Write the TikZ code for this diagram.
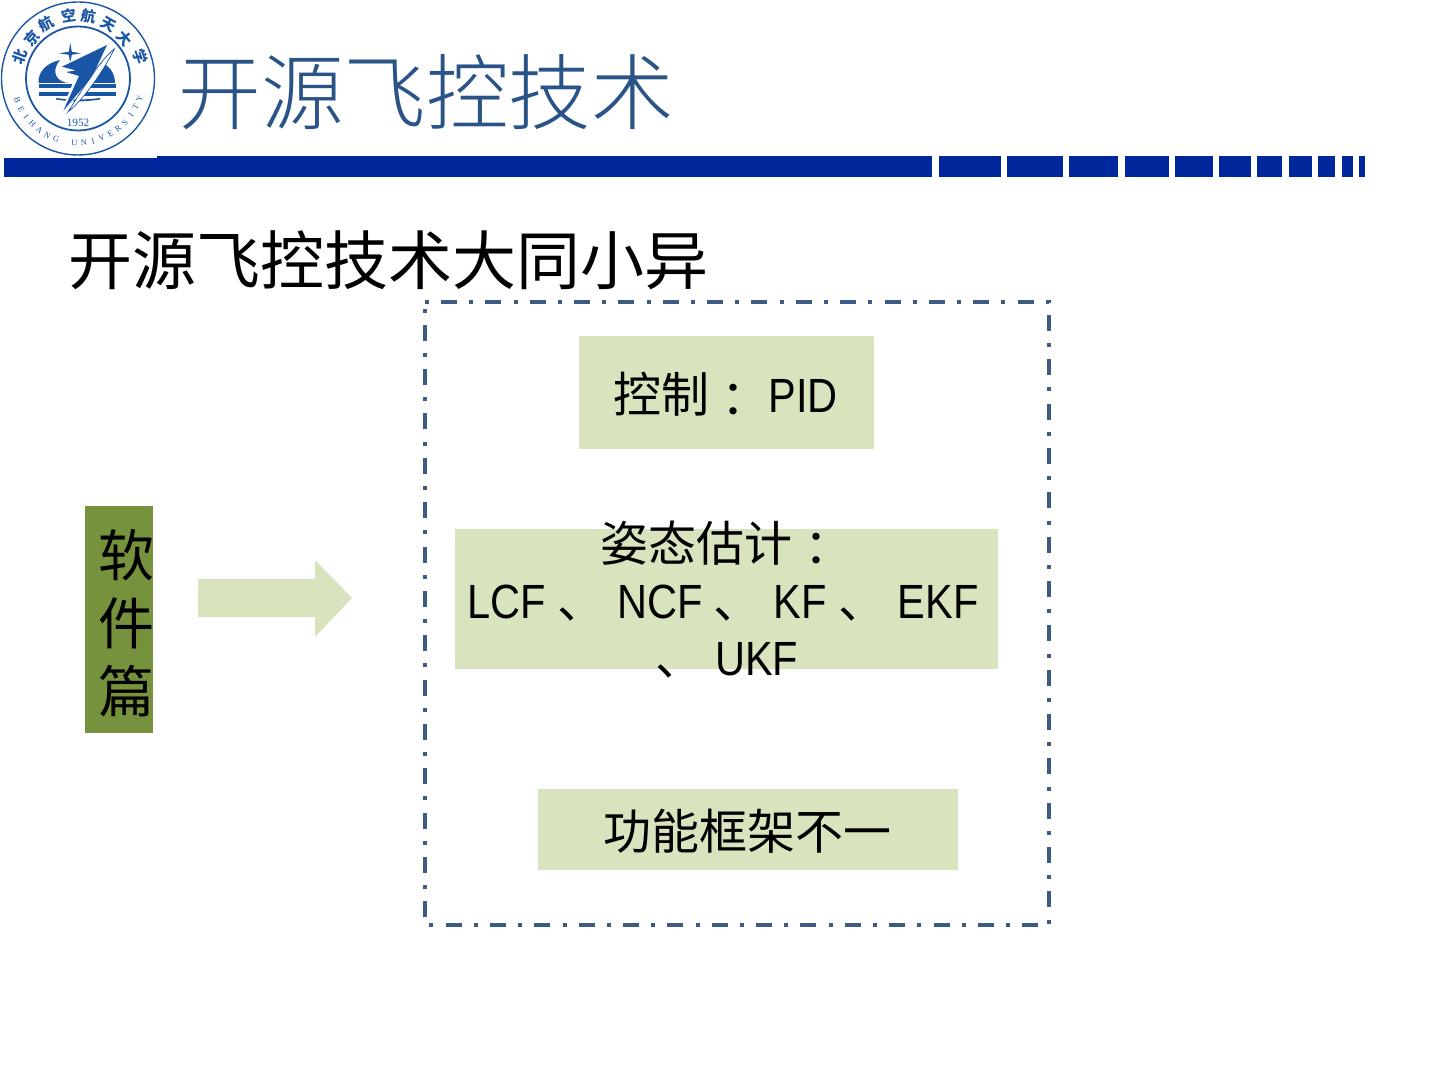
\documentclass[tikz,border=0pt]{standalone}
\usepackage{fontspec}
\newfontfamily\cjk{Noto Sans CJK SC}
\newfontfamily\cjkc{Noto Sans CJK TC}
\newfontfamily\cjklight{Noto Sans CJK SC Light}
\newfontfamily\lserif{Liberation Serif}
\newfontfamily\lsans[FakeStretch=0.865]{Liberation Sans}
\newcommand\lat[1]{{\lsans #1}}
\newcommand\ccolon{\raisebox{-2.5pt}{\cjkc ：}}
\definecolor{barblue}{HTML}{00289C}
\definecolor{titleblue}{HTML}{2A5488}
\definecolor{logoblue}{HTML}{1A56A6}
\definecolor{frameblue}{HTML}{3C5A82}
\definecolor{lightgreen}{HTML}{D8E4BD}
\definecolor{darkgreen}{HTML}{76923C}
\tikzset{
  x=0.5pt,y=-0.5pt,
  barseg/.style={fill=barblue,draw=none},
  greenbox/.style={fill=lightgreen,draw=none,inner sep=0pt,outer sep=0pt},
  bodytext/.style={inner sep=0pt,text=black,font=\cjk\fontsize{24}{28.5}\selectfont,align=center},
  logofill/.style={fill=logoblue,draw=none},
  logochar/.style={inner sep=0pt,text=logoblue,font=\cjk\bfseries\fontsize{7.4}{8}\selectfont},
  logoletter/.style={inner sep=0pt,text=logoblue,font=\lserif\fontsize{4.2}{5}\selectfont},
}
\begin{document}
\begin{tikzpicture}
\useasboundingbox (0,0) rectangle (1440,1080);
% header bar
\fill[barseg] (4,158) rectangle (157,177);
\foreach \a/\b in {157/932,939/1001,1007/1063,1069/1118,1125/1169,1175/1213,1219/1251,1257/1282,1289/1312,1318/1335,1342/1353,1359/1365}
  \fill[barseg] (\a,156) rectangle (\b,177);
% logo
\coordinate (lc) at (78,78.5);
\draw[logoblue,line width=0.7pt] (lc) circle[radius=76.5];
\draw[logoblue,line width=0.9pt] (lc) circle[radius=52];
\foreach \ch/\px/\py in {北/20/57,京/32/38.5,航/46.5/24,空/68.5/16,航/88.5/16,天/108.5/25,大/125/38.5,学/140/57}{
  \pgfmathsetmacro\rot{atan2(\px-78,78.5-\py)*-1}
  \node[logochar,rotate=\rot] at (\px,\py) {\ch};
}
\foreach \ch [count=\i from 0] in {B,E,I,H,A,N,G,{ },U,N,I,V,E,R,S,I,T,Y}{
  \pgfmathsetmacro\ang{200+\i*8.35}
  \node[logoletter,rotate={\ang+90}] at ({78+64.5*cos(\ang)},{78.5-64.5*sin(\ang)}) {\ch};
}
\node[inner sep=0pt,text=logoblue,font=\lserif\fontsize{5.6}{6}\selectfont] (logoyear) at (78,123) {1952};
% domes
\fill[logofill] (60,60) .. controls (47,63) and (38,71) .. (38.5,83) -- (70,83)
  .. controls (57,83) and (50,72) .. (60,60) -- cycle;
\fill[logofill] (100,62) .. controls (109,65) and (115,73) .. (115,83) -- (90,83) -- cycle;
\fill[logofill] (38.7,84.3) rectangle (116,88.3);
\fill[logofill] (38.7,91.7) rectangle (116,96);
\fill[logofill] (56,98) .. controls (70,100) and (85,100) .. (100,98) -- (100,99.5) .. controls (85,102) and (70,102) .. (56,99.5) -- cycle;
% star
\fill[logofill] (70.3,43) -- (71.8,51.8) -- (81,53.3) -- (71.8,54.8) -- (70.3,63) -- (68.8,54.8) -- (59,53.3) -- (68.8,51.8) -- cycle;
% dart
\fill[white] (109,43) -- (59,66) -- (75,78) -- (60,114) -- (95,78) -- cycle;
\fill[logofill] (107,45) -- (62,66.7) -- (76,70.5) -- (66,72) -- (79,76) -- (63.3,110.7) -- (92,77) -- cycle;
\fill[white] (114.3,49) .. controls (100,62) and (82,92) .. (67,113) .. controls (85,98) and (104,70) .. (114.3,49) -- cycle;
\draw[logoblue,line width=0.35pt] (114.3,49) .. controls (100,60) and (82,90) .. (68,112) .. controls (85,98) and (104,70) .. (114.3,49) -- cycle;
% title
\node[anchor=west,inner sep=0pt,text=titleblue,font=\cjklight\fontsize{41.3}{48}\selectfont] (title) at (178,92) {开源飞控技术};
\node[anchor=west,inner sep=0pt,text=black,font=\cjk\fontsize{32}{38}\selectfont] (subtitle) at (68,260) {开源飞控技术大同小异};
% dashed frame
\draw[frameblue,line width=2pt,dash pattern=on 8pt off 6.1pt on 2pt off 6.075pt,dash phase=14.175pt] (425,302) -- (1049,302) -- (1049,925) -- (425,925) -- cycle;
% green boxes
\node[greenbox,minimum width=147.5pt,minimum height=56.5pt] (ctrl) at (726.5,392.5) {};
\node[greenbox,minimum width=271.5pt,minimum height=70pt] (est) at (726.5,599) {};
\node[greenbox,minimum width=210pt,minimum height=40.5pt] (func) at (748,829.5) {};
\node[bodytext] (ctrltext) at (725.5,395) {控制\ccolon\lat{ PID}};
\node[bodytext] (esttext) at (723,600) {\hspace*{-3pt}姿态估计\ccolon\\\lat{LCF\ }、\lat{\ NCF\ }、\lat{\ KF\ }、\lat{\ EKF}\\\hspace*{4pt}、\lat{\ UKF}};
\node[bodytext] (functext) at (747,831) {功能框架不一};
% software box
\node[greenbox,fill=darkgreen,minimum width=34pt,minimum height=113.5pt] (soft) at (119,619.5) {};
\node[bodytext,font=\cjk\fontsize{28}{34}\selectfont] (softtext) at (126,623) {软\\件\\篇};
% arrow
\fill[lightgreen] (198,579) -- (315,579) -- (315,560) -- (352,598) -- (315,637) -- (315,617) -- (198,617) -- cycle;
\end{tikzpicture}
\end{document}
